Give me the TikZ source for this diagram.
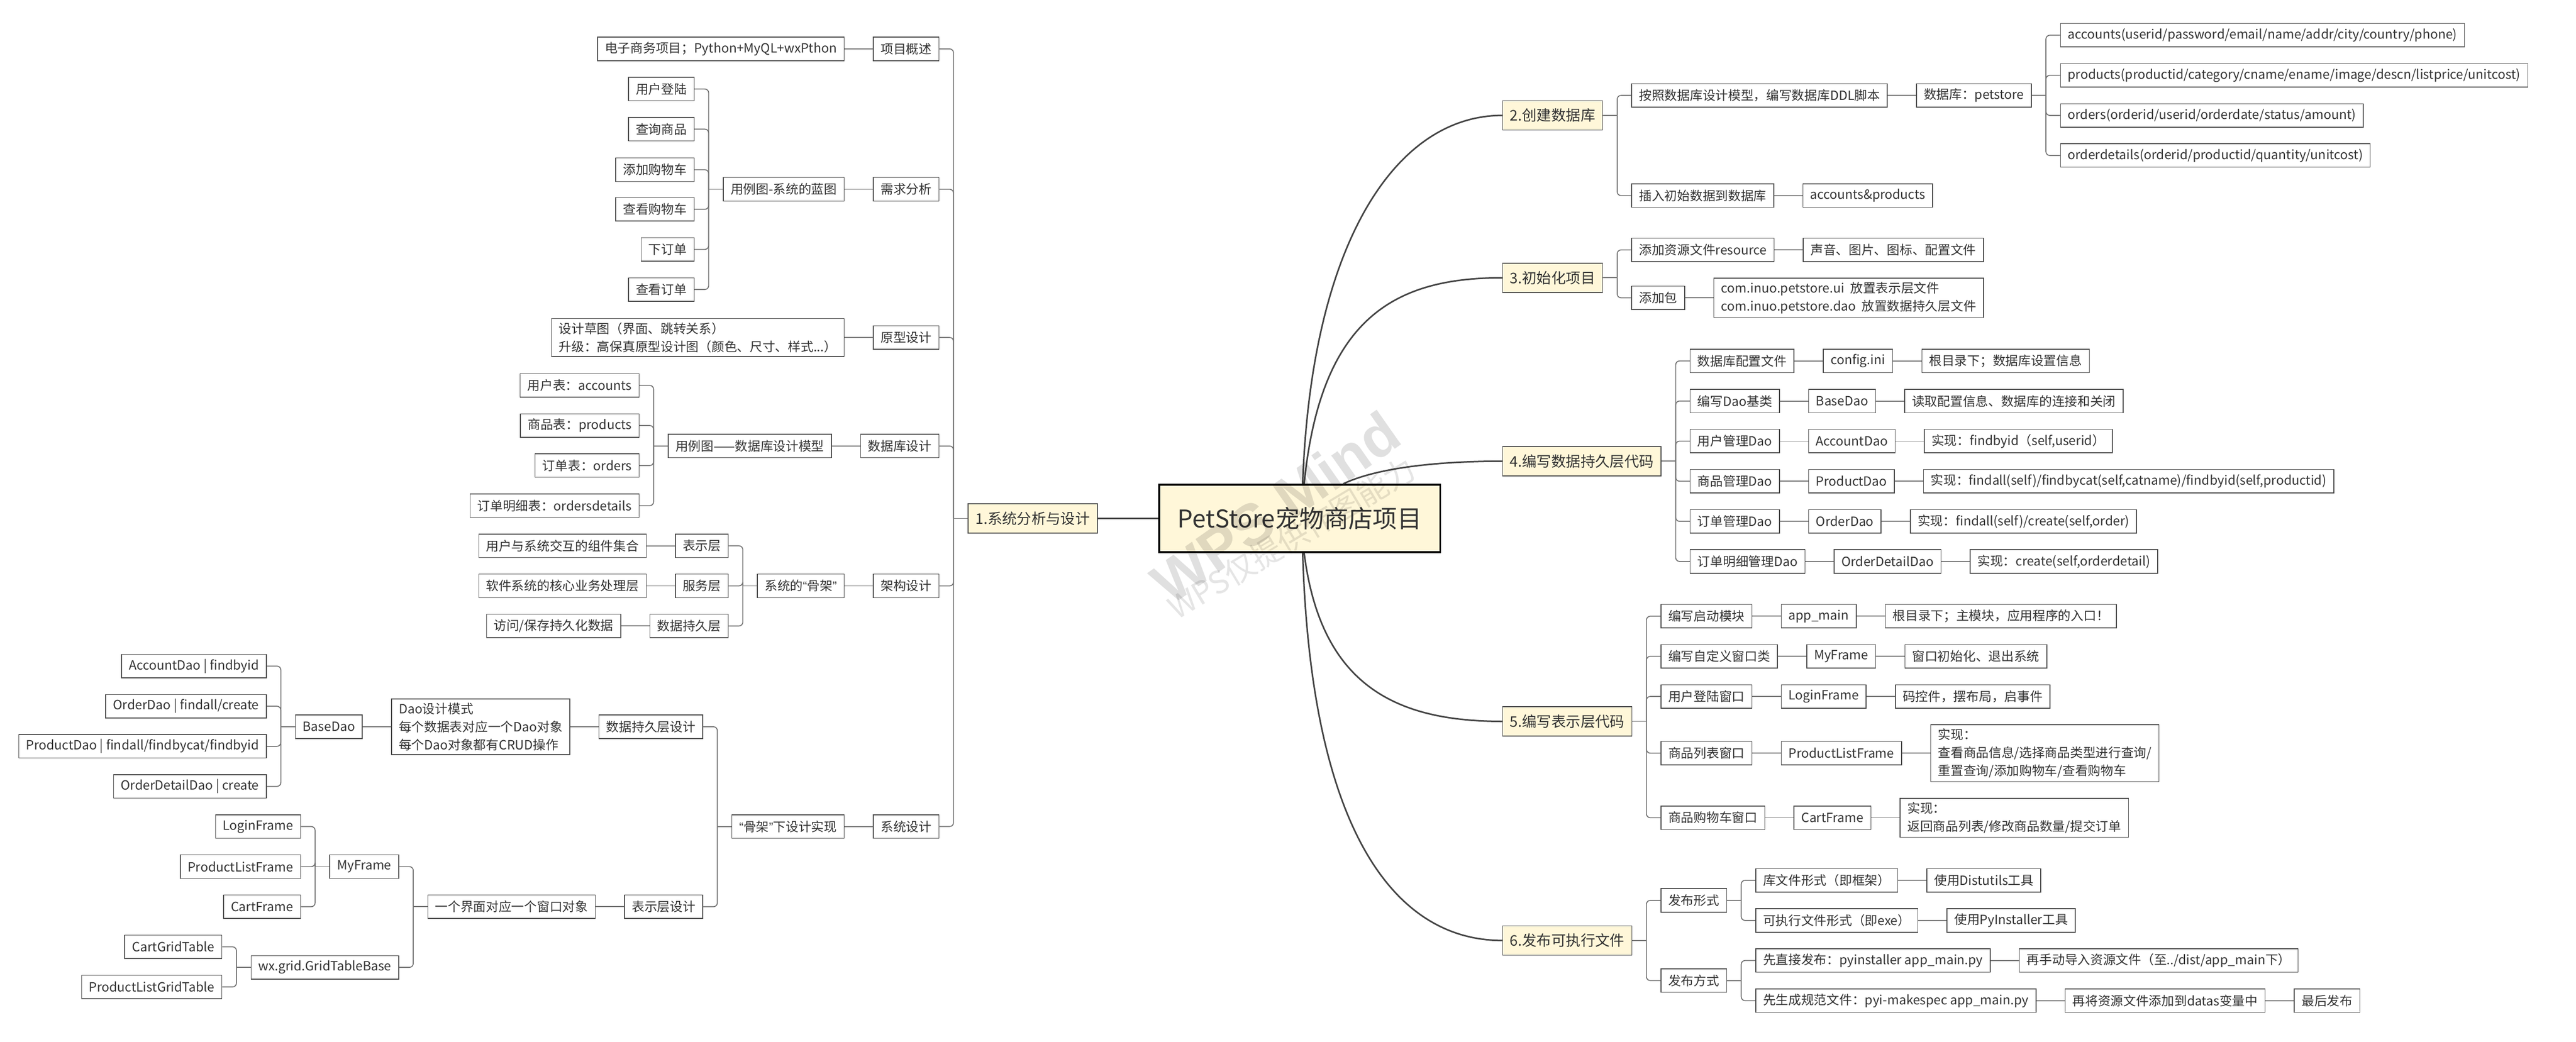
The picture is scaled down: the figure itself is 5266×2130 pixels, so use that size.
\documentclass[tikz,border=0pt]{standalone}
\usepackage{fontspec}
\setmainfont{Noto Sans CJK SC}
\newfontfamily\markfont{Liberation Sans}
\newcommand\qopen{{\markfont “}}
\newcommand\qclose{{\markfont ”}}
\usetikzlibrary{positioning}
\definecolor{topicfill}{HTML}{FFF7D9}
\definecolor{inkc}{HTML}{333333}
\definecolor{boxc}{HTML}{4A4A4A}
\definecolor{linec}{HTML}{737373}
\definecolor{curvec}{HTML}{444444}
\tikzset{
  leaf/.style={draw=boxc, line width=0.45pt, fill=white, text=inkc, minimum height=0.48cm,
    inner xsep=0.15cm, inner ysep=0.08cm, font=\fontsize{7.4}{10.5}\selectfont},
  leafs/.style={leaf, align=left},
  topic/.style={leaf, fill=topicfill, minimum height=0.6cm, font=\fontsize{8.5}{10}\selectfont},
  rootbox/.style={draw=black, line width=1pt, fill=topicfill, text=inkc, minimum width=5.74cm,
    minimum height=1.38cm, font=\fontsize{14.2}{16}\selectfont},
  link/.style={draw=linec, line width=0.55pt, rounded corners=0.08cm},
  bough/.style={draw=curvec, line width=0.9pt},
}
\begin{document}
\begin{tikzpicture}[x=0.01cm, y=-0.01cm, node distance=0.58cm]
\useasboundingbox (0,0) rectangle (5266,2130);

\node[rootbox] (root) at (2657,1060) {PetStore宠物商店项目};

\node[topic, left=1.24cm of root] (b1) {1.系统分析与设计};
\draw[bough] (root.west) -- (b1.east);
\path (b1.west) ++(-29,0) coordinate (b1T) ++(-29,0) coordinate (b1E);
\foreach \n/\y/\lbl in {gs/100/项目概述, xq/387/需求分析, yx/690/原型设计, sj/912/数据库设计, jg/1198/架构设计, xt/1690/系统设计}
  \node[leaf, anchor=east] (\n) at (b1E |- 0,\y) {\lbl};
\draw[link] (b1.west) -- (b1T);
\foreach \n in {gs,xq,yx,sj,jg,xt}
  \draw[link] (b1T) |- (\n.east);

\node[leaf, left=of gs] (gsA) {电子商务项目；Python+MyQL+wxPthon};
\node[leaf, left=of xq] (xqA) {用例图-系统的蓝图};
\node[leafs, left=of yx] (yxA) {设计草图（界面、跳转关系）\\升级：高保真原型设计图（颜色、尺寸、样式...）};
\node[leaf, left=of sj] (sjA) {用例图——数据库设计模型};
\node[leaf, left=of jg] (jgA) {系统的\qopen 骨架\qclose};
\node[leaf, left=of xt] (xtA) {\qopen 骨架\qclose 下设计实现};
\foreach \n in {gs,xq,yx,sj,jg,xt}
  \draw[link] (\n.west) -- (\n A.east);

\path (xqA.west) ++(-29,0) coordinate (xqT) ++(-29,0) coordinate (xqE);
\draw[link] (xqA.west) -- (xqT);
\foreach \y/\lbl [count=\i] in {182/用户登陆, 264/查询商品, 347/添加购物车, 428/查看购物车, 510/下订单, 592/查看订单} {
  \node[leaf, anchor=east] (xq\i) at (xqE |- 0,\y) {\lbl};
  \draw[link] (xqT) |- (xq\i.east);
}

\path (sjA.west) ++(-29,0) coordinate (sjT) ++(-29,0) coordinate (sjE);
\draw[link] (sjA.west) -- (sjT);
\foreach \y/\lbl [count=\i] in {788/用户表：accounts, 870/商品表：products, 952/订单表：orders, 1034/订单明细表：ordersdetails} {
  \node[leaf, anchor=east] (sj\i) at (sjE |- 0,\y) {\lbl};
  \draw[link] (sjT) |- (sj\i.east);
}

\path (jgA.west) ++(-29,0) coordinate (jgT) ++(-29,0) coordinate (jgE);
\draw[link] (jgA.west) -- (jgT);
\foreach \y/\lbl/\desc [count=\i] in {1116/表示层/用户与系统交互的组件集合, 1198/服务层/软件系统的核心业务处理层, 1280/数据持久层/{访问/保存持久化数据}} {
  \node[leaf, anchor=east] (jg\i) at (jgE |- 0,\y) {\lbl};
  \node[leaf, left=of jg\i] (jgd\i) {\desc};
  \draw[link] (jgT) |- (jg\i.east);
  \draw[link] (jg\i.west) -- (jgd\i.east);
}

\path (xtA.west) ++(-29,0) coordinate (xtT) ++(-29,0) coordinate (xtE);
\node[leaf, anchor=east] (dp) at (xtE |- 0,1486) {数据持久层设计};
\node[leaf, anchor=east] (bs) at (xtE |- 0,1854) {表示层设计};
\draw[link] (xtA.west) -- (xtT);
\foreach \n in {dp,bs}
  \draw[link] (xtT) |- (\n.east);

\node[leafs, left=of dp] (dpA) {Dao设计模式\\每个数据表对应一个Dao对象\\每个Dao对象都有CRUD操作};
\node[leaf, left=of dpA] (dpB) {BaseDao};
\draw[link] (dp.west) -- (dpA.east);
\draw[link] (dpA.west) -- (dpB.east);
\path (dpB.west) ++(-29,0) coordinate (dpT) ++(-29,0) coordinate (dpE);
\draw[link] (dpB.west) -- (dpT);
\foreach \y/\lbl [count=\i] in {1362/AccountDao | findbyid, 1444/{OrderDao | findall/create}, 1526/{ProductDao | findall/findbycat/findbyid}, 1608/OrderDetailDao | create} {
  \node[leaf, anchor=east] (dao\i) at (dpE |- 0,\y) {\lbl};
  \draw[link] (dpT) |- (dao\i.east);
}

\node[leaf, left=of bs] (bsA) {一个界面对应一个窗口对象};
\draw[link] (bs.west) -- (bsA.east);
\path (bsA.west) ++(-29,0) coordinate (bsT) ++(-29,0) coordinate (bsE);
\node[leaf, anchor=east] (mf) at (bsE |- 0,1772) {MyFrame};
\node[leaf, anchor=east] (gt) at (bsE |- 0,1978) {wx.grid.GridTableBase};
\draw[link] (bsA.west) -- (bsT);
\foreach \n in {mf,gt}
  \draw[link] (bsT) |- (\n.east);
\path (mf.west) ++(-29,0) coordinate (mfT) ++(-29,0) coordinate (mfE);
\draw[link] (mf.west) -- (mfT);
\foreach \y/\lbl [count=\i] in {1690/LoginFrame, 1772/ProductListFrame, 1854/CartFrame} {
  \node[leaf, anchor=east] (mf\i) at (mfE |- 0,\y) {\lbl};
  \draw[link] (mfT) |- (mf\i.east);
}
\path (gt.west) ++(-29,0) coordinate (gtT) ++(-29,0) coordinate (gtE);
\draw[link] (gt.west) -- (gtT);
\foreach \y/\lbl [count=\i] in {1936/CartGridTable, 2018/ProductListGridTable} {
  \node[leaf, anchor=east] (gt\i) at (gtE |- 0,\y) {\lbl};
  \draw[link] (gtT) |- (gt\i.east);
}

\path (root.east) ++(125,0) coordinate (rE);
\foreach \n/\y/\lbl in {b2/236/2.创建数据库, b3/568/3.初始化项目, b4/943/4.编写数据持久层代码, b5/1475/5.编写表示层代码, b6/1923/6.发布可执行文件}
  \node[topic, anchor=west] (\n) at (rE |- 0,\y) {\lbl};
\draw[bough] ([xshift=0.06cm]root.north) .. controls +(17,-490) and +(-219,0) .. (b2.west);
\draw[bough] ([xshift=0.09cm]root.north) .. controls +(34,-340) and +(-219,0) .. (b3.west);
\draw[bough] ([xshift=0.89cm]root.north) .. controls +(74,-35) and +(-119,0) .. (b4.west);
\draw[bough] ([xshift=0.09cm]root.south) .. controls +(34,270) and +(-219,0) .. (b5.west);
\draw[bough] ([xshift=0.06cm]root.south) .. controls +(17,570) and +(-219,0) .. (b6.west);

\path (b2.east) ++(29,0) coordinate (b2T) ++(29,0) coordinate (b2E);
\node[leaf, anchor=west] (ddl) at (b2E |- 0,195) {按照数据库设计模型，编写数据库DDL脚本};
\node[leaf, anchor=west] (ins) at (b2E |- 0,400) {插入初始数据到数据库};
\draw[link] (b2.east) -- (b2T);
\foreach \n in {ddl,ins}
  \draw[link] (b2T) |- (\n.west);
\node[leaf, right=of ddl] (db) {数据库：petstore};
\node[leaf, right=of ins] (ap) {accounts\&products};
\draw[link] (ddl.east) -- (db.west);
\draw[link] (ins.east) -- (ap.west);
\path (db.east) ++(29,0) coordinate (dbT) ++(29,0) coordinate (dbE);
\draw[link] (db.east) -- (dbT);
\foreach \y/\lbl [count=\i] in {72/{accounts(userid/password/email/name/addr/city/country/phone)}, 154/{products(productid/category/cname/ename/image/descn/listprice/unitcost)}, 236/{orders(orderid/userid/orderdate/status/amount)}, 318/{orderdetails(orderid/productid/quantity/unitcost)}} {
  \node[leaf, anchor=west] (tb\i) at (dbE |- 0,\y) {\lbl};
  \draw[link] (dbT) |- (tb\i.west);
}

\path (b3.east) ++(29,0) coordinate (b3T) ++(29,0) coordinate (b3E);
\node[leaf, anchor=west] (res) at (b3E |- 0,511) {添加资源文件resource};
\node[leaf, anchor=west] (pkg) at (b3E |- 0,609) {添加包};
\draw[link] (b3.east) -- (b3T);
\foreach \n in {res,pkg}
  \draw[link] (b3T) |- (\n.west);
\node[leaf, right=of res] (resA) {声音、图片、图标、配置文件};
\node[leafs, right=of pkg] (pkgA) {com.inuo.petstore.ui\ \ 放置表示层文件\\com.inuo.petstore.dao\ \ 放置数据持久层文件};
\draw[link] (res.east) -- (resA.west);
\draw[link] (pkg.east) -- (pkgA.west);

\path (b4.east) ++(29,0) coordinate (b4T) ++(29,0) coordinate (b4E);
\draw[link] (b4.east) -- (b4T);
\foreach \y/\lbl/\cname/\desc [count=\i] in {738/数据库配置文件/config.ini/{根目录下；数据库设置信息}, 820/编写Dao基类/BaseDao/{读取配置信息、数据库的连接和关闭}, 902/用户管理Dao/AccountDao/{实现：findbyid（self,userid）}, 984/商品管理Dao/ProductDao/{实现：findall(self)/findbycat(self,catname)/findbyid(self,productid)}, 1066/订单管理Dao/OrderDao/{实现：findall(self)/create(self,order)}, 1148/订单明细管理Dao/OrderDetailDao/{实现：create(self,orderdetail)}} {
  \node[leaf, anchor=west] (pd\i) at (b4E |- 0,\y) {\lbl};
  \node[leaf, right=of pd\i] (pdc\i) {\cname};
  \node[leaf, right=of pdc\i] (pdd\i) {\desc};
  \draw[link] (b4T) |- (pd\i.west);
  \draw[link] (pd\i.east) -- (pdc\i.west);
  \draw[link] (pdc\i.east) -- (pdd\i.west);
}

\path (b5.east) ++(29,0) coordinate (b5T) ++(29,0) coordinate (b5E);
\draw[link] (b5.east) -- (b5T);
\foreach \y/\lbl/\cname/\desc [count=\i] in {1260/编写启动模块/app\_main/{根目录下；主模块，应用程序的入口！}, 1342/编写自定义窗口类/MyFrame/{窗口初始化、退出系统}, 1424/用户登陆窗口/LoginFrame/{码控件，摆布局，启事件}, 1540/商品列表窗口/ProductListFrame/{实现：\\查看商品信息/选择商品类型进行查询/\\重置查询/添加购物车/查看购物车}, 1672/商品购物车窗口/CartFrame/{实现：\\返回商品列表/修改商品数量/提交订单}} {
  \node[leaf, anchor=west] (ui\i) at (b5E |- 0,\y) {\lbl};
  \node[leaf, right=of ui\i] (uic\i) {\cname};
  \node[leafs, right=of uic\i] (uid\i) {\desc};
  \draw[link] (b5T) |- (ui\i.west);
  \draw[link] (ui\i.east) -- (uic\i.west);
  \draw[link] (uic\i.east) -- (uid\i.west);
}

\path (b6.east) ++(29,0) coordinate (b6T) ++(29,0) coordinate (b6E);
\node[leaf, anchor=west] (fx) at (b6E |- 0,1841) {发布形式};
\node[leaf, anchor=west] (fs) at (b6E |- 0,2005) {发布方式};
\draw[link] (b6.east) -- (b6T);
\foreach \n in {fx,fs}
  \draw[link] (b6T) |- (\n.west);
\path (fx.east) ++(29,0) coordinate (fxT) ++(29,0) coordinate (fxE);
\draw[link] (fx.east) -- (fxT);
\foreach \y/\lbl/\tool [count=\i] in {1800/库文件形式（即框架）/使用Distutils工具, 1882/可执行文件形式（即exe）/使用PyInstaller工具} {
  \node[leaf, anchor=west] (fx\i) at (fxE |- 0,\y) {\lbl};
  \node[leaf, right=of fx\i] (fxt\i) {\tool};
  \draw[link] (fxT) |- (fx\i.west);
  \draw[link] (fx\i.east) -- (fxt\i.west);
}
\path (fs.east) ++(29,0) coordinate (fsT) ++(29,0) coordinate (fsE);
\draw[link] (fs.east) -- (fsT);
\node[leaf, anchor=west] (fs1) at (fsE |- 0,1964) {先直接发布：pyinstaller app\_main.py};
\node[leaf, right=of fs1] (fs1a) {再手动导入资源文件（至../dist/app\_main下）};
\node[leaf, anchor=west] (fs2) at (fsE |- 0,2046) {先生成规范文件：pyi-makespec app\_main.py};
\node[leaf, right=of fs2] (fs2a) {再将资源文件添加到datas变量中};
\node[leaf, right=of fs2a] (fs2b) {最后发布};
\foreach \n in {fs1,fs2}
  \draw[link] (fsT) |- (\n.west);
\draw[link] (fs1.east) -- (fs1a.west);
\draw[link] (fs2.east) -- (fs2a.west);
\draw[link] (fs2a.east) -- (fs2b.west);

\node[rotate=35, text=black, text opacity=0.12, font=\markfont\bfseries\fontsize{34}{34}\selectfont] (wm) at (2607,1037) {WPS Mind};
\node[rotate=31, text=black, text opacity=0.1, font=\fontsize{18}{18}\selectfont] (wms) at (2640,1100) {WPS仅提供作图能力};
\end{tikzpicture}
\end{document}
